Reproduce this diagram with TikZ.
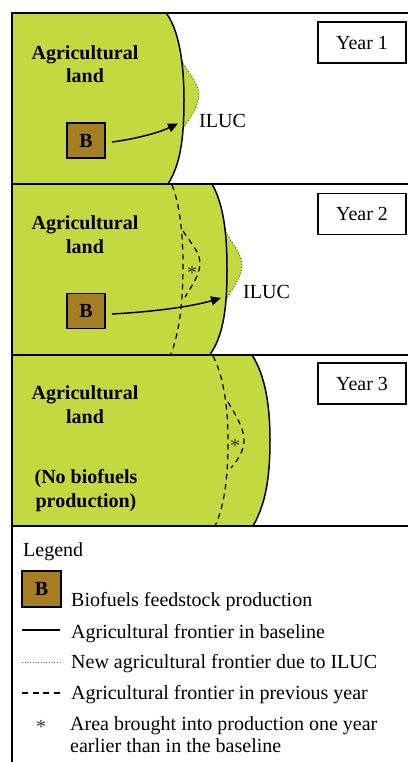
\documentclass[tikz,border=0pt]{standalone}
\usepackage{fontspec}
\setmainfont{Liberation Serif}
\usetikzlibrary{arrows.meta}
\definecolor{agri}{RGB}{196,217,64}
\definecolor{bio}{RGB}{165,125,35}
\definecolor{ilucdot}{RGB}{80,90,50}
\begin{document}
\begin{tikzpicture}[x=1pt,y=-1pt,
  txt/.style={font=\fontsize{20}{23}\selectfont, inner sep=0pt},
  btxt/.style={font=\fontsize{20}{23.5}\selectfont\bfseries, inner sep=0pt, align=center},
  bbox/.style={draw, line width=1.2pt, fill=bio, minimum width=38pt, minimum height=35pt, font=\fontsize{20}{23}\selectfont\bfseries, inner sep=0pt},
  yearbox/.style={draw, line width=1.2pt, fill=white, minimum width=88pt, minimum height=41pt, font=\fontsize{20}{23}\selectfont, inner sep=0pt},
  frontier/.style={line width=1.5pt},
  ilucline/.style={dotted, line width=1pt, draw=ilucdot},
  prevline/.style={line width=1.2pt, dash pattern=on 5.5pt off 4.5pt},
  flow/.style={line width=1.5pt, -{Triangle[length=10pt,width=9pt]}},
  frameline/.style={line width=2pt, draw=black},
  star/.style={font=\fontsize{20}{23}\selectfont, inner sep=0pt, text=black!80}
]
\useasboundingbox (0,0) rectangle (407,762);

% ---------- Panel 1 ----------
\fill[agri] (12,13) -- (166,13) .. controls (178,28) and (184,60) .. (184,100) .. controls (184,140) and (180,165) .. (168,184) -- (12,184) -- cycle;
\fill[agri] (182,61) .. controls (188,72) and (199,84) .. (199,95) .. controls (199,107) and (189,119) .. (183,129) -- cycle;
\draw[ilucline] (182,61) .. controls (188,72) and (199,84) .. (199,95) .. controls (199,107) and (189,119) .. (183,129);
\draw[frontier] (166,13) .. controls (178,28) and (184,60) .. (184,100) .. controls (184,140) and (180,165) .. (168,184);

% ---------- Panel 2 ----------
\fill[agri] (12,184) -- (212,184) .. controls (224,205) and (227,235) .. (227,270) .. controls (227,305) and (224,335) .. (210,354.5) -- (12,354.5) -- cycle;
\fill[agri] (226,232) .. controls (232,244) and (242,254) .. (242,265) .. controls (242,277) and (232,289) .. (227,298) -- cycle;
\draw[ilucline] (226,232) .. controls (232,244) and (242,254) .. (242,265) .. controls (242,277) and (232,289) .. (227,298);
\draw[frontier] (212,184) .. controls (224,205) and (227,235) .. (227,270) .. controls (227,305) and (224,335) .. (210,354.5);
\draw[prevline] (172,185) .. controls (180,205) and (183,235) .. (183,265) .. controls (183,300) and (180,330) .. (171,354);
\draw[prevline] (183,231) .. controls (190,242) and (200,252) .. (200,263) .. controls (200,275) and (191,287) .. (185,297);

% ---------- Panel 3 ----------
\fill[agri] (12,355) -- (252,355) .. controls (265,375) and (270,405) .. (270,440) .. controls (270,480) and (265,505) .. (253,526) -- (12,526) -- cycle;
\draw[frontier] (252,355) .. controls (265,375) and (270,405) .. (270,440) .. controls (270,480) and (265,505) .. (253,526);
\draw[prevline] (213,356) .. controls (223,375) and (228,405) .. (228,440) .. controls (228,475) and (225,505) .. (215,526);
\draw[prevline] (228,402) .. controls (235,414) and (244,428) .. (244,440) .. controls (244,452) and (236,462) .. (231,468);

% ---------- frame ----------
\draw[frameline] (12,775) -- (12,13) -- (412,13);
\draw[frameline] (12,184) -- (412,184);
\draw[frameline] (12,354.5) -- (412,354.5);
\draw[frameline] (12,526) -- (412,526);

% ---------- year boxes ----------
\node[yearbox] (y1) at (362,42.5) {Year 1};
\node[yearbox] (y2) at (362,214) {Year 2};
\node[yearbox] (y3) at (362,383.5) {Year 3};

% ---------- panel texts ----------
\node[btxt, anchor=base] (ag1) at (85,83) {Agricultural\\land};
\node[btxt, anchor=base] (ag2) at (85,253) {Agricultural\\land};
\node[btxt, anchor=base] (ag3) at (85,423) {Agricultural\\land};
\node[btxt, anchor=base] (nobio) at (86,507) {(No biofuels\\production)};

\node[bbox] (b1) at (86,140.5) {B};
\node[bbox] (b2) at (86,311) {B};

\node[txt, anchor=base west] (iluc1) at (199,128) {ILUC};
\node[txt, anchor=base west] (iluc2) at (243,298) {ILUC};

\coordinate (a1s) at (112,142);
\coordinate (a1e) at (178,123.5);
\coordinate (a2s) at (112,314);
\coordinate (a2e) at (221,298);
\draw[flow] (a1s) .. controls (135,139) and (158,133) .. (a1e);
\draw[flow] (a2s) .. controls (150,312) and (190,307) .. (a2e);

\node[star, anchor=base] (s2) at (192,279) {*};
\node[star, anchor=base] (s3) at (235,452) {*};

% ---------- legend ----------
\node[txt, anchor=base west] (leg) at (23,556) {Legend};
\node[bbox, minimum width=39pt, minimum height=36pt] (lb) at (41.5,589) {B};
\node[txt, anchor=base west] (lt1) at (71,606) {Biofuels feedstock production};

\coordinate (l2a) at (22,630);
\coordinate (l2b) at (60,630);
\draw[line width=1.3pt] (l2a) -- (l2b);
\node[txt, anchor=base west] (lt2) at (71,638) {Agricultural frontier in baseline};

\coordinate (l3a) at (22,662);
\coordinate (l3b) at (60,662);
\draw[dotted, line width=0.7pt, black!60] (l3a) -- (l3b);
\node[txt, anchor=base west] (lt3) at (71,668) {New agricultural frontier due to ILUC};

\coordinate (l4a) at (22,693);
\coordinate (l4b) at (61,693);
\draw[line width=1.2pt, dash pattern=on 6pt off 4.5pt] (l4a) -- (l4b);
\node[txt, anchor=base west] (lt4) at (71,699) {Agricultural frontier in previous year};

\node[star, anchor=base] (ls) at (41,733) {*};
\node[txt, anchor=base west, align=left, font=\fontsize{20}{22}\selectfont] (lt5) at (70,752) {Area brought into production one year\\earlier than in the baseline};
\end{tikzpicture}
\end{document}
